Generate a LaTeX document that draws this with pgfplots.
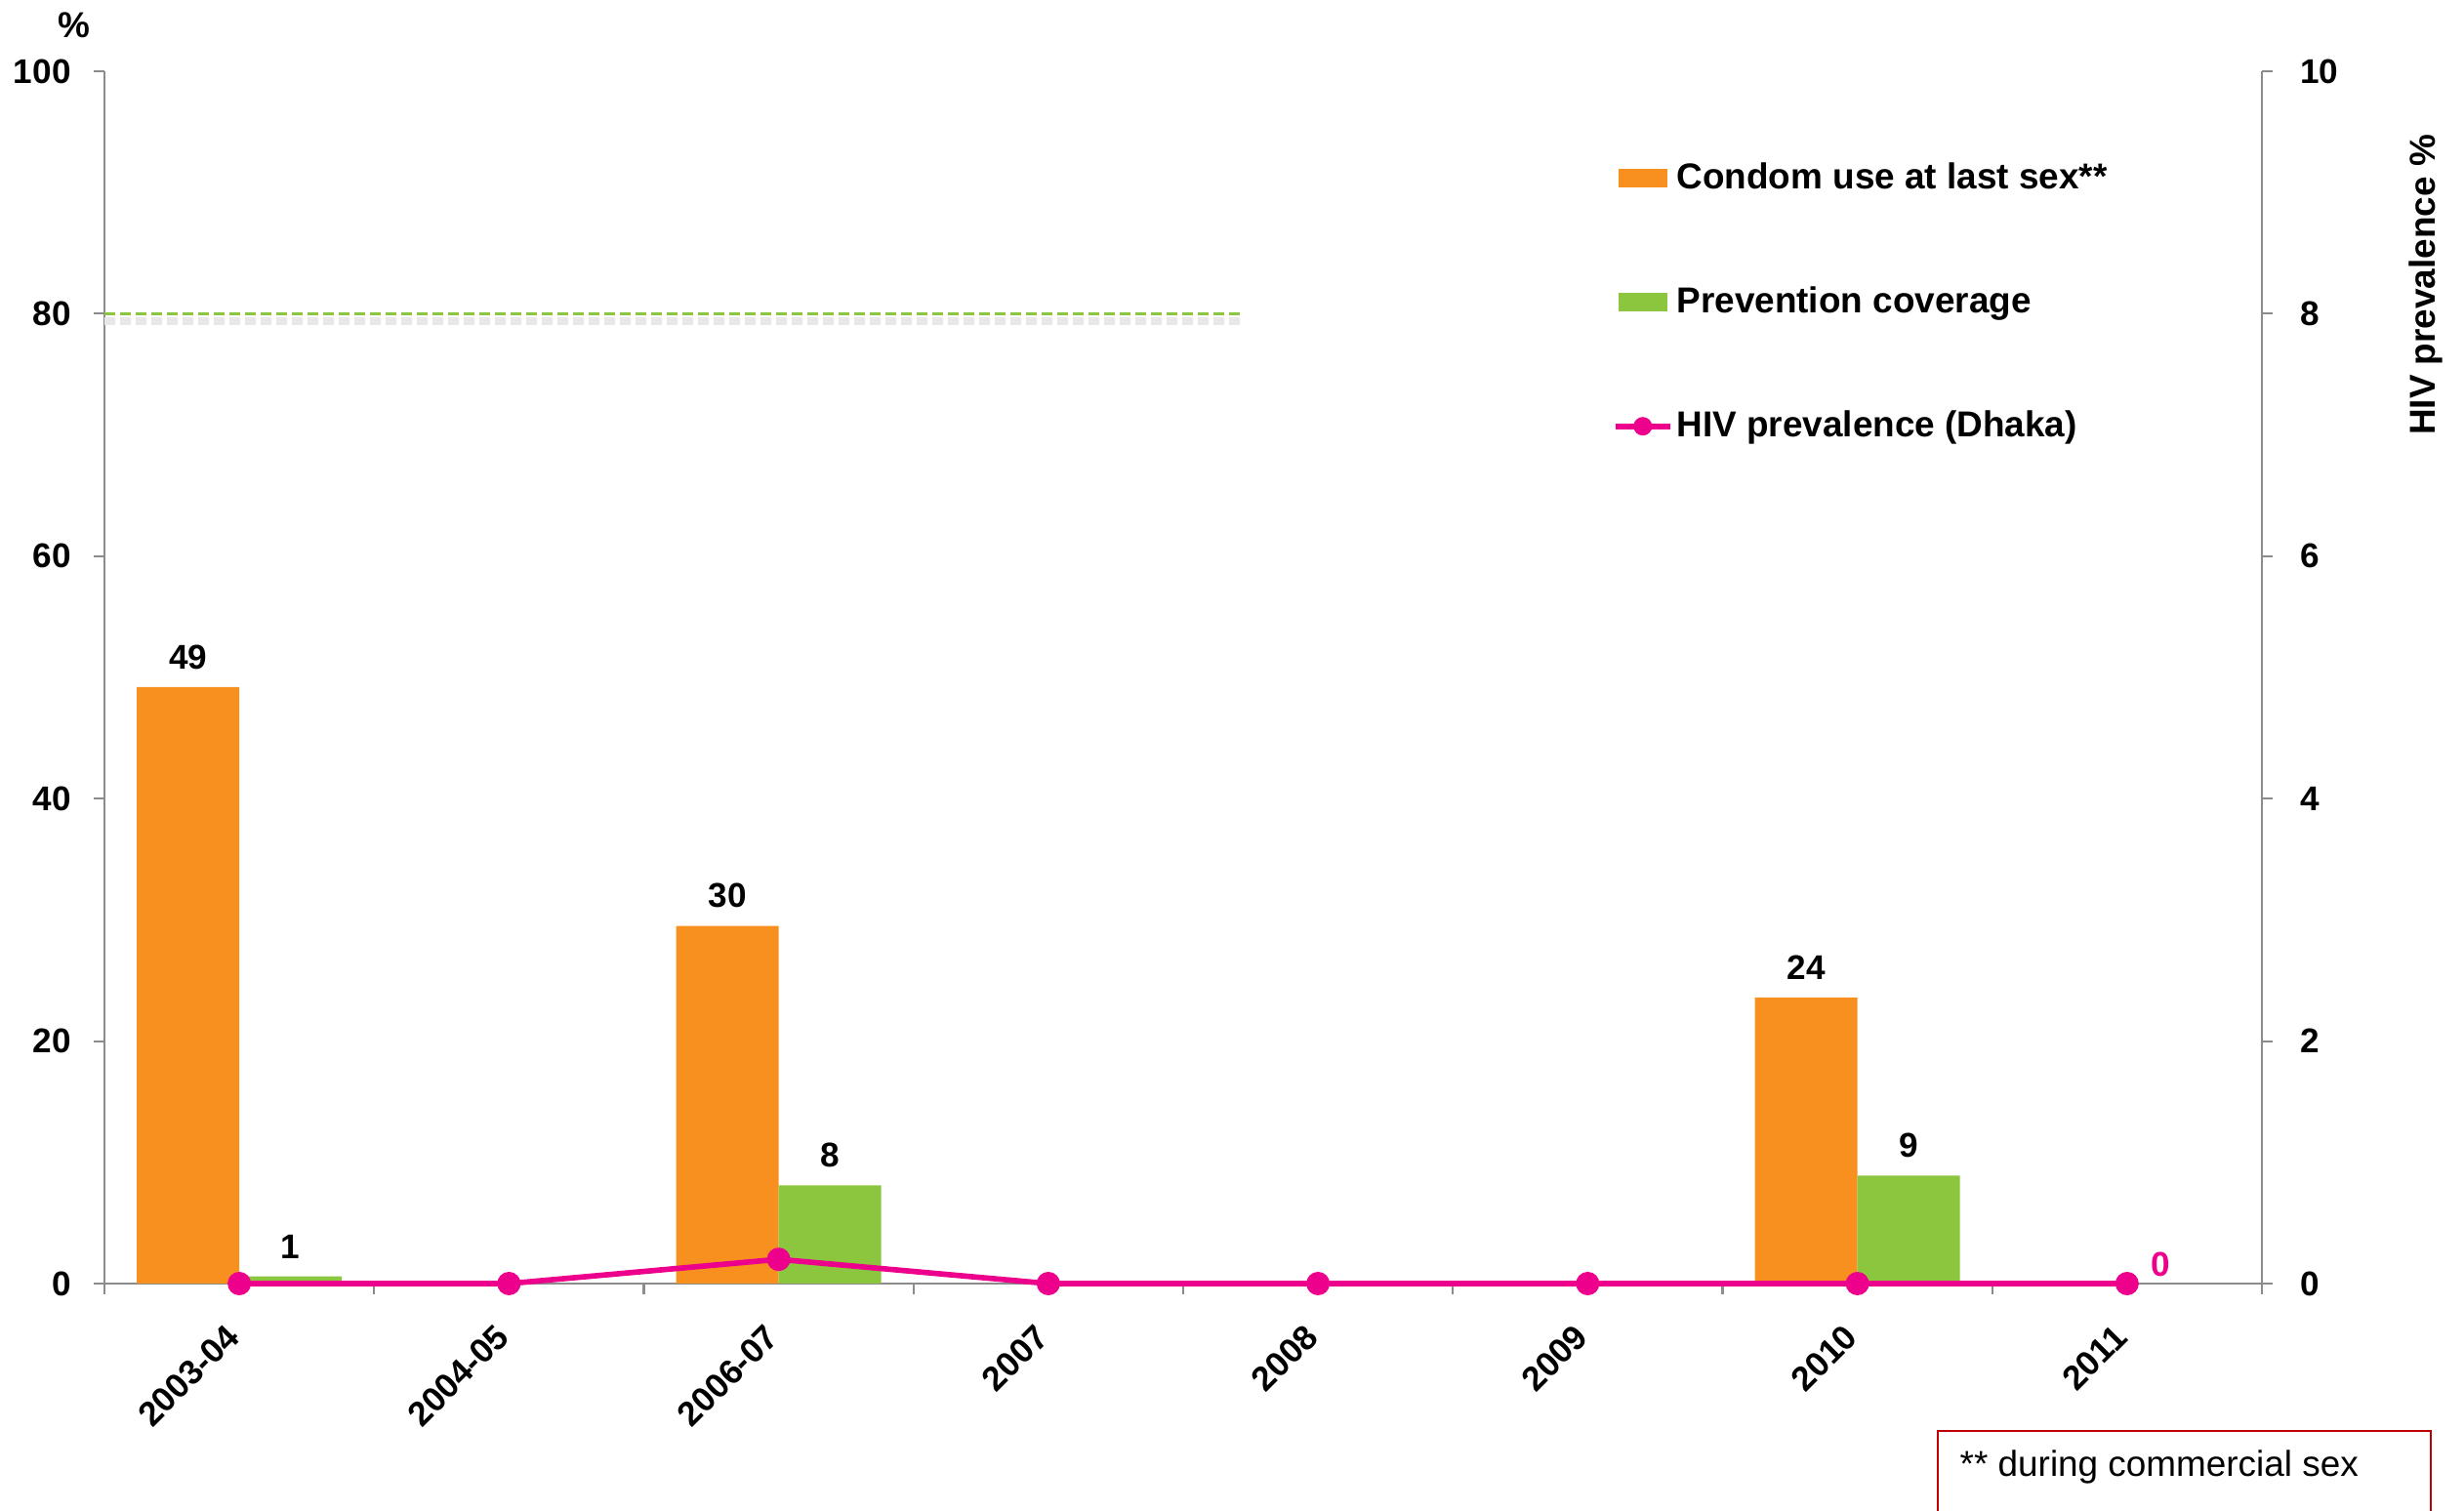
\documentclass[border=0pt]{standalone}
\usepackage{fontspec}
\setmainfont{Liberation Sans}
\usepackage{pgfplots}
\pgfplotsset{compat=1.18}
\definecolor{condom}{HTML}{F7901E}
\definecolor{prev}{HTML}{8CC63F}
\definecolor{hiv}{HTML}{EC008C}
\definecolor{axgray}{HTML}{8C8C8C}
\definecolor{boxred}{HTML}{C00000}
\newcommand\lab{\fontsize{10pt}{12pt}\selectfont\bfseries}
\newcommand\leg{\fontsize{10.5pt}{12.6pt}\selectfont\bfseries}

\begin{document}
\begin{tikzpicture}
% left axis: bars (percent)
\begin{axis}[
  scale only axis, width=221mm, height=124.2mm,
  xmin=-0.5, xmax=7.5, ymin=0, ymax=100,
  axis x line=bottom, axis y line=left,
  axis line style={draw=axgray, line width=0.6pt, -},
  tick style={draw=axgray, line width=0.6pt},
  tick align=outside, major tick length=0pt, minor tick length=1.1mm,
  ytick={0,20,...,100}, minor ytick={0,20,...,100},
  xtick={0,...,7},
  xticklabels={2003-04,2004-05,2006-07,2007,2008,2009,2010,2011},
  minor xtick={-0.5,0.5,...,7.5},
  xticklabel style={rotate=45, anchor=north east, font=\lab,
    xshift=-2.65mm, yshift=-0.5mm},
  yticklabel style={font=\lab, xshift=-2.2mm},
  /pgf/number format/assume math mode=true,
  clip=false,
  legend cell align=left,
  legend style={draw=none, fill=none, font=\leg,
    at={(axis description cs:0.694,0.934)}, anchor=north west,
    row sep=8.7mm, nodes={inner sep=0.4mm}},
]
% 80% target line with its shadow
\addplot[forget plot, gray!18, line width=2.2pt, dash pattern=on 1.1mm off 0.5mm]
  coordinates {(-0.5,79.4) (3.72,79.4)};
\addplot[forget plot, prev, line width=1pt, dash pattern=on 1.1mm off 0.5mm]
  coordinates {(-0.5,80) (3.72,80)};

\addplot[ybar, bar width=0.38, bar shift=-0.19, fill=condom, draw=none,
  point meta=explicit symbolic, nodes near coords,
  nodes near coords style={font=\lab, text=black, yshift=0.6mm, xshift=-5.25mm},
  legend image code/.code={\fill[condom] (0mm,-0.95mm) rectangle (5mm,0.95mm);}]
  coordinates {(0,49.2)[49] (2,29.5)[30] (6,23.6)[24]};
\addlegendentry{Condom use at last sex**}

\addplot[ybar, bar width=0.38, bar shift=0.19, fill=prev, draw=none,
  point meta=explicit symbolic, nodes near coords,
  nodes near coords style={font=\lab, text=black, yshift=0.6mm, xshift=5.25mm},
  legend image code/.code={\fill[prev] (0mm,-0.95mm) rectangle (5mm,0.95mm);}]
  coordinates {(0,0.6)[1] (2,8.1)[8] (6,8.9)[9]};
\addlegendentry{Prevention coverage}

\addlegendimage{legend image code/.code={
    \draw[hiv, line width=1.6pt] (-0.3mm,0mm) -- (5.3mm,0mm);
    \fill[hiv] (2.5mm,0mm) circle (2.5pt);}}
\addlegendentry{HIV prevalence (Dhaka)}
\end{axis}

% right axis: HIV prevalence
\begin{axis}[
  scale only axis, width=221mm, height=124.2mm,
  xmin=-0.5, xmax=7.5, ymin=0, ymax=10,
  axis x line=none, axis y line=right,
  axis line style={draw=axgray, line width=0.6pt, -},
  tick style={draw=axgray, line width=0.6pt},
  tick align=outside, major tick length=0pt, minor tick length=1.1mm,
  ytick={0,2,...,10}, minor ytick={0,2,...,10},
  yticklabel style={font=\lab, xshift=2.7mm},
  /pgf/number format/assume math mode=true,
  clip=false,
]
\addplot[hiv, line width=1.6pt, mark=*, mark size=2.6pt]
  coordinates {(0,0) (1,0) (2,0.2) (3,0) (4,0) (5,0) (6,0) (7,0)}
  node[pos=1, anchor=south west, inner sep=0pt, xshift=2.2mm, yshift=0.4mm,
       text=hiv, font=\lab] {0};
\end{axis}

\node[font=\leg] at (-3.1mm,128.9mm) {\%};
\node[font=\leg, rotate=90] at (237.8mm,102.3mm) {HIV prevalence \%};
\draw[boxred, line width=0.6pt] (187.8mm,-15.1mm) rectangle (238.3mm,-30mm);
\node[anchor=base west, inner sep=0pt, font=\fontsize{10.5pt}{12.6pt}\selectfont]
  at (190mm,-19.7mm) {** during commercial sex};

\pgfresetboundingbox
\path[use as bounding box] (-10.7mm,-23.3mm) rectangle (241.7mm,131.5mm);
\end{tikzpicture}
\end{document}
